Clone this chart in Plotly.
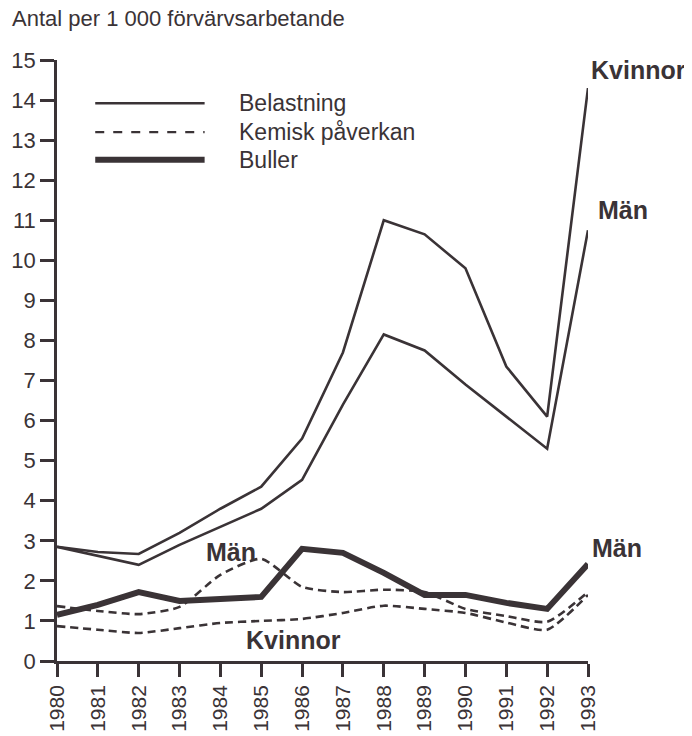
import plotly.graph_objects as go

# Antal per 1 000 förvärvsarbetande, 1980-1993
years = list(range(1980, 1994))
belastning_kvinnor = [2.85, 2.72, 2.67, 3.2, 3.8, 4.35, 5.55, 7.7, 11.0, 10.65, 9.8, 7.35, 6.1, 14.3]
belastning_man = [2.85, 2.62, 2.4, 2.9, 3.35, 3.8, 4.52, 6.4, 8.15, 7.75, 6.9, 6.1, 5.3, 10.75]
kemisk_man = [1.37, 1.25, 1.17, 1.35, 2.15, 2.55, 1.85, 1.72, 1.78, 1.72, 1.3, 1.12, 0.98, 1.72]
kemisk_kvinnor = [0.87, 0.78, 0.7, 0.82, 0.95, 1.0, 1.05, 1.2, 1.38, 1.3, 1.2, 0.96, 0.78, 1.65]
buller_man = [1.15, 1.4, 1.72, 1.5, 1.55, 1.6, 2.8, 2.7, 2.2, 1.65, 1.65, 1.45, 1.3, 2.42]

legend_names = ["Belastning", "Kemisk påverkan", "Buller"]

INK = "#3a3336"
FONT = "Liberation Sans, Arial, Helvetica, sans-serif"

# sidan har 8 px body-marginal i webbläsaren -> kompensera i marginalerna
PAD = 8
L, R, T, B = 57 - PAD, 104 + PAD, 60 - PAD, 75 + PAD
PLOT_W = 692 - L - R
PLOT_H = 736 - T - B

fig = go.Figure()

# Belastning (tunn heldragen)
for vals in (belastning_kvinnor, belastning_man):
    fig.add_trace(go.Scatter(x=years, y=vals, mode="lines",
                             line=dict(color=INK, width=2.6),
                             showlegend=False, hoverinfo="skip"))

# Kemisk påverkan (streckad)
for vals in (kemisk_man, kemisk_kvinnor):
    fig.add_trace(go.Scatter(x=years, y=vals, mode="lines",
                             line=dict(color=INK, width=2.6, dash="8px,5px",
                                       shape="spline", smoothing=0.6),
                             showlegend=False, hoverinfo="skip"))

# Buller (tjock)
fig.add_trace(go.Scatter(x=years, y=buller_man, mode="lines",
                         line=dict(color=INK, width=6),
                         showlegend=False, hoverinfo="skip"))

# egen teckenförklaring: linjer + text
leg_y = [0.928, 0.880, 0.834]
leg_styles = [dict(width=2.6), dict(width=2.2, dash="dash"), dict(width=6)]
for name, yy, st in zip(legend_names, leg_y, leg_styles):
    fig.add_shape(type="line", xref="paper", yref="paper",
                  x0=0.072, x1=0.278, y0=yy, y1=yy,
                  line=dict(color=INK, **st))
    fig.add_annotation(text=name, xref="paper", yref="paper",
                       x=0.339, y=yy, xanchor="left", yanchor="middle",
                       showarrow=False, font=dict(size=23, color=INK, family=FONT))

# serie-etiketter (x-förskjutning i pixlar)
labels = [
    ("Kvinnor", 1993, 14.75, "left", 1),
    ("Män", 1993, 11.26, "left", 8),
    ("Män", 1993, 2.82, "left", 2),
    ("Män", 1984.26, 2.72, "center", 0),
    ("Kvinnor", 1985.78, 0.52, "center", 0),
]
for txt, lx, ly, anc, shift in labels:
    fig.add_annotation(text=f"<b>{txt}</b>", x=lx, y=ly, xanchor=anc, yanchor="middle",
                       xshift=shift, showarrow=False,
                       font=dict(size=25, color=INK, family=FONT))

# axeltitel överst till vänster
fig.add_annotation(text="Antal per 1 000 förvärvsarbetande", xref="paper", yref="paper",
                   x=-L / PLOT_W, y=(PLOT_H + T - (18 - PAD)) / PLOT_H,
                   xanchor="left", yanchor="middle", xshift=2, showarrow=False,
                   font=dict(size=22, color=INK, family=FONT))

fig.update_layout(
    width=692, height=736,
    margin=dict(l=L, r=R, t=T, b=B, autoexpand=False),
    paper_bgcolor="white", plot_bgcolor="white",
    font=dict(family=FONT, size=22, color=INK),
    showlegend=False,
)
fig.update_xaxes(range=[1980, 1993], tickvals=years, ticktext=[str(y) for y in years],
                 tickangle=-90, ticks="outside", ticklen=13, tickwidth=2.5, tickcolor=INK,
                 showline=True, linewidth=2.5, linecolor=INK, showgrid=False, zeroline=False,
                 tickfont=dict(size=21), automargin=False)
fig.update_yaxes(range=[0, 15], dtick=1, ticks="outside", ticklen=14, tickwidth=2.5,
                 tickcolor=INK, showline=True, linewidth=2.5, linecolor=INK,
                 showgrid=False, zeroline=False, tickfont=dict(size=22), automargin=False)

fig.write_html("out.html")
